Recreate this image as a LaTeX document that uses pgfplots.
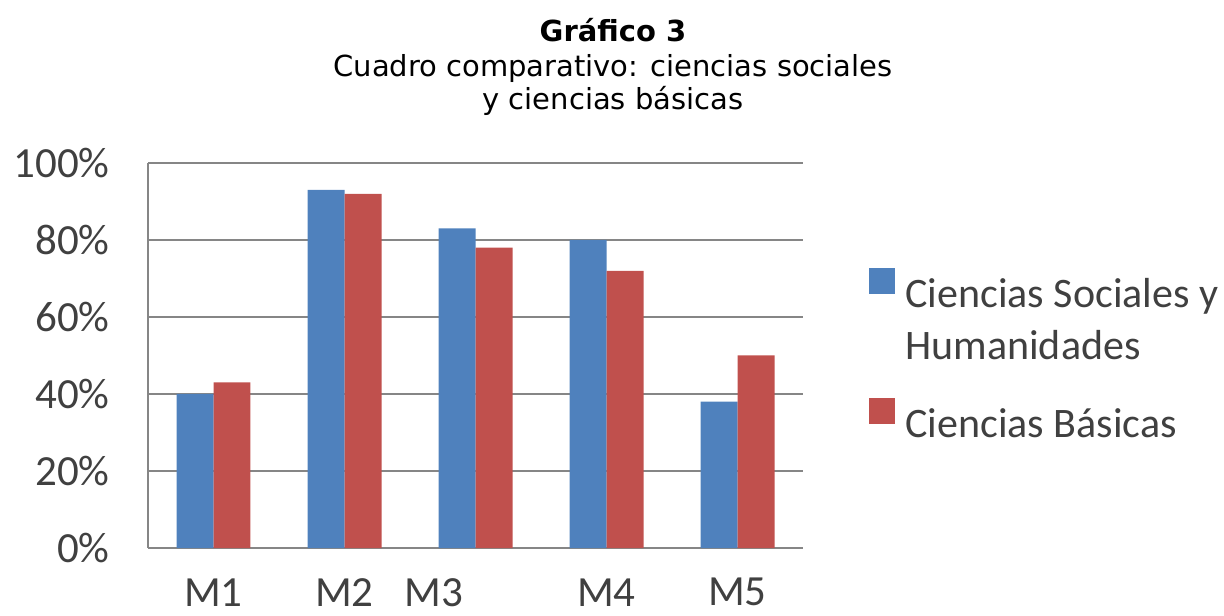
\documentclass[border=0pt]{standalone}
\usepackage{fontspec}
\usepackage{pgfplots}
\pgfplotsset{compat=1.18}
\newfontfamily\calibri{Carlito}
\newfontfamily\verdana{DejaVu Sans}
\definecolor{cblue}{HTML}{4F81BD}
\definecolor{cred}{HTML}{C0504D}
\definecolor{cgrid}{HTML}{868686}
\definecolor{ctext}{HTML}{404040}
\pgfplotsset{sqlegend/.style={legend image code/.code={\fill[##1] (0pt,0pt) rectangle (13pt,13pt);}}}
\begin{document}
\begin{tikzpicture}
\useasboundingbox (0,0) rectangle (612pt,307.5pt);
\node[anchor=base, inner sep=0pt, font=\verdana\bfseries\fontsize{14.5}{17}\selectfont] at (306.5pt,286.5pt) {Gráfico 3};
\node[anchor=base, inner sep=0pt, font=\verdana\fontsize{14.5}{17}\selectfont] at (306.5pt,269pt) {Cuadro comparativo: ciencias sociales};
\node[anchor=base, inner sep=0pt, font=\verdana\fontsize{14.5}{17}\selectfont] at (306.5pt,252.5pt) {y ciencias básicas};
\begin{axis}[
  at={(74pt,33.5pt)}, anchor=south west,
  scale only axis, width=327.5pt, height=192.5pt,
  ybar=0pt, bar width=0.2824,
  xmin=-0.5, xmax=4.5, ymin=0, ymax=100,
  axis x line*=bottom, axis y line*=left,
  axis line style={draw=cgrid, line width=1.2pt},
  ymajorgrids, grid style={draw=cgrid, line width=1.2pt},
  ytick={0,20,40,60,80,100}, yticklabels={0\%,20\%,40\%,60\%,80\%,100\%},
  xtick={0,1,1.68,3,4}, xticklabels={M1,M2,M3,M4,M5},
  major tick length=0pt,
  tick style={draw=none},
  ticklabel style={font=\calibri\fontsize{21.5}{25}\selectfont, text=ctext, inner sep=0pt},
  yticklabel style={anchor=east, xshift=-19pt},
  xticklabel style={anchor=north, yshift=-15pt},
  legend cell align=left,
  legend style={draw=none, fill=none, at={(1.1008,0.7273)}, anchor=north west,
    inner xsep=0pt, inner ysep=0pt, column sep=5pt, row sep=0pt,
    font=\calibri\fontsize{21}{25}\selectfont,
    nodes={inner sep=0pt, text depth={}, text=ctext}},
]
\addplot[fill=cblue, draw=none, sqlegend] coordinates {(0,40) (1,93) (2,83) (3,80) (4,38)};
\addlegendentry{\rule[-6.5pt]{0pt}{26pt}Ciencias Sociales y}
\addlegendimage{empty legend}
\addlegendentry{\rule[-19.5pt]{0pt}{39pt}Humanidades}
\addplot[fill=cred, draw=none, sqlegend] coordinates {(0,43) (1,92) (2,78) (3,72) (4,50)};
\addlegendentry{\rule[-6.5pt]{0pt}{26pt}Ciencias Básicas}
\end{axis}
\end{tikzpicture}
\end{document}
